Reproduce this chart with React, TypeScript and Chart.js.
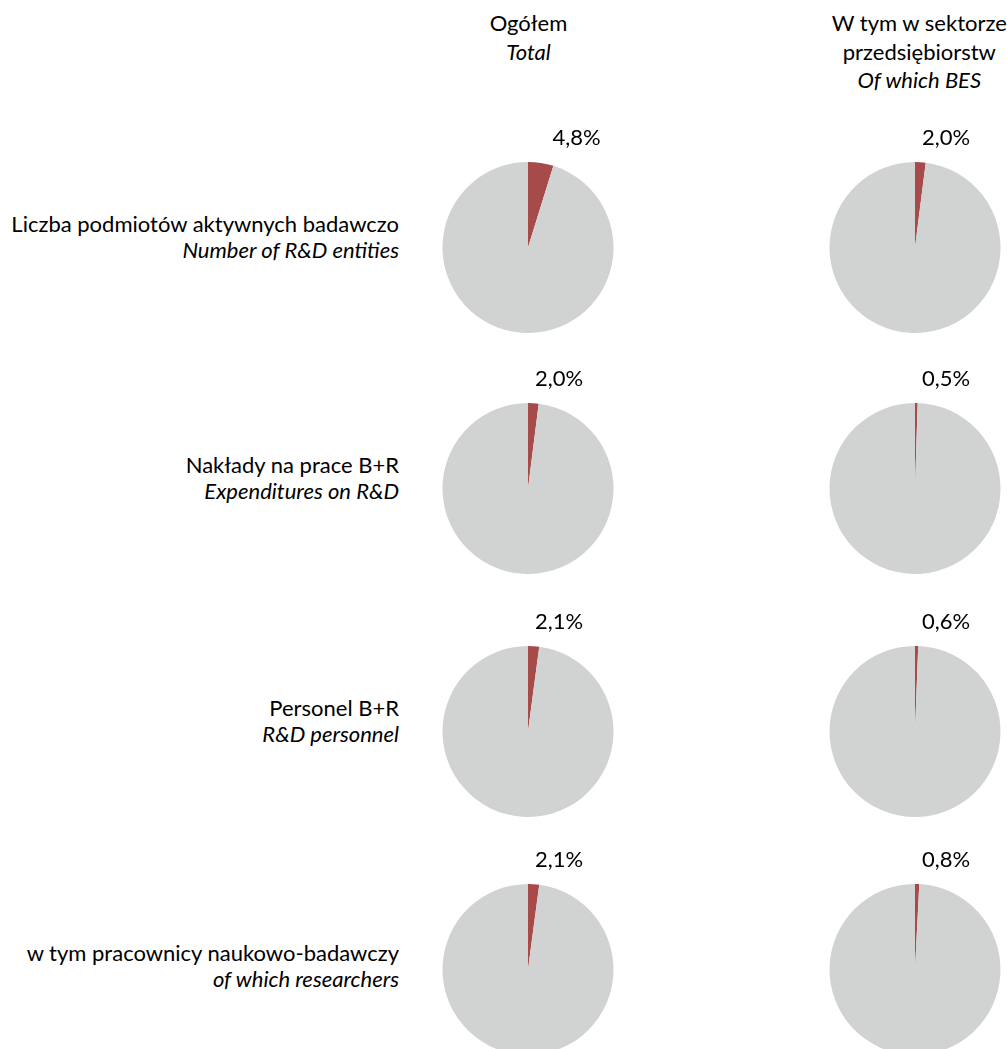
import React, { useEffect, useRef } from "react";
import { Chart, registerables } from "chart.js";

Chart.register(...registerables);

// ---- data ----
const columnHeaders: string[][] = [
  ["Ogółem", "Total"],
  ["W tym w sektorze", "przedsiębiorstw", "Of which BES"],
];
const rowLabelsPl: string[] = [
  "Liczba podmiotów aktywnych badawczo",
  "Nakłady na prace B+R",
  "Personel B+R",
  "w tym pracownicy naukowo-badawczy",
];
const rowLabelsEn: string[] = [
  "Number of R&D entities",
  "Expenditures on R&D",
  "R&D personnel",
  "of which researchers",
];
const totalShare: number[] = [4.8, 2.0, 2.1, 2.1];
const besShare: number[] = [2.0, 0.5, 0.6, 0.8];

const RED = "#A64A4A";
const GRAY = "#D1D2D2";
const FONT = "Lato, 'Open Sans', sans-serif";

// ---- layout ----
const colCenters = [527.5, 915.3];
const rowCenters = [247, 488.5, 731, 969];
const CANVAS_W = 240;
const CANVAS_H = 220;
const PAD_TOP = 46;
const RADIUS = 85.5;

const fmt = (v: number) => v.toFixed(1).replace(".", ",") + "%";

const labelPlugin = {
  id: "shareLabel",
  afterDatasetsDraw(chart: any) {
    const meta = chart.getDatasetMeta(0);
    const arc = meta.data[0];
    if (!arc) return;
    const p = arc.getProps(["x", "y", "startAngle", "endAngle", "outerRadius"], true);
    const midFromTop = ((p.startAngle + p.endAngle) / 2 + Math.PI / 2) * 180 / Math.PI;
    const dx = 31 + Math.max(0, midFromTop - 4) * 3.8;
    const v = chart.data.datasets[0].data[0] as number;
    const ctx = chart.ctx;
    ctx.save();
    ctx.font = `22px ${FONT}`;
    ctx.fillStyle = "#000";
    ctx.textAlign = "center";
    ctx.textBaseline = "middle";
    ctx.fillText(fmt(v), p.x + dx, p.y - p.outerRadius - 24);
    ctx.restore();
  },
};

function Pie({ value, cx, cy }: { value: number; cx: number; cy: number }) {
  const ref = useRef<HTMLCanvasElement | null>(null);
  useEffect(() => {
    if (!ref.current) return;
    const chart = new Chart(ref.current, {
      type: "pie",
      data: {
        labels: ["share", "rest"],
        datasets: [
          {
            data: [value, 100 - value],
            backgroundColor: [RED, GRAY],
            borderWidth: 0,
          },
        ],
      },
      options: {
        responsive: false,
        animation: false,
        events: [],
        layout: {
          padding: { top: PAD_TOP, bottom: CANVAS_H - PAD_TOP - RADIUS * 2, left: 0, right: 0 },
        },
        plugins: { legend: { display: false }, tooltip: { enabled: false } },
      },
      plugins: [labelPlugin],
    });
    return () => chart.destroy();
  }, [value]);
  return (
    <canvas
      ref={ref}
      width={CANVAS_W}
      height={CANVAS_H}
      style={{
        position: "absolute",
        left: cx - CANVAS_W / 2,
        top: cy - PAD_TOP - RADIUS,
        width: CANVAS_W,
        height: CANVAS_H,
      }}
    />
  );
}

export default function App() {
  const textBase: React.CSSProperties = {
    position: "absolute",
    fontFamily: FONT,
    fontSize: 22,
    lineHeight: "28px",
    color: "#000",
    whiteSpace: "nowrap",
  };
  return (
    <div
      style={{
        position: "absolute",
        left: 0,
        top: 0,
        width: 1007,
        height: 1049,
        overflow: "hidden",
        background: "#fff",
      }}
    >
      {columnHeaders.map((lines, ci) => (
        <div
          key={"h" + ci}
          style={{
            ...textBase,
            left: colCenters[ci] + (ci === 1 ? 4 : 1) - 150,
            width: 300,
            top: 9,
            textAlign: "center",
            lineHeight: "28.5px",
          }}
        >
          {lines.map((l, i) => (
            <div key={i} style={{ fontStyle: i === lines.length - 1 ? "italic" : "normal" }}>
              {l}
            </div>
          ))}
        </div>
      ))}
      {rowLabelsPl.map((pl, ri) => (
        <div
          key={"r" + ri}
          style={{
            ...textBase,
            right: 1007 - 399,
            top: rowCenters[ri] - (ri === 3 ? 29.5 : 36.5),
            textAlign: "right",
            lineHeight: "26px",
          }}
        >
          <div>{pl}</div>
          <div style={{ fontStyle: "italic" }}>{rowLabelsEn[ri]}</div>
        </div>
      ))}
      {rowCenters.map((cy, ri) => (
        <React.Fragment key={"p" + ri}>
          <Pie value={totalShare[ri]} cx={colCenters[0]} cy={cy} />
          <Pie value={besShare[ri]} cx={colCenters[1]} cy={cy} />
        </React.Fragment>
      ))}
    </div>
  );
}
